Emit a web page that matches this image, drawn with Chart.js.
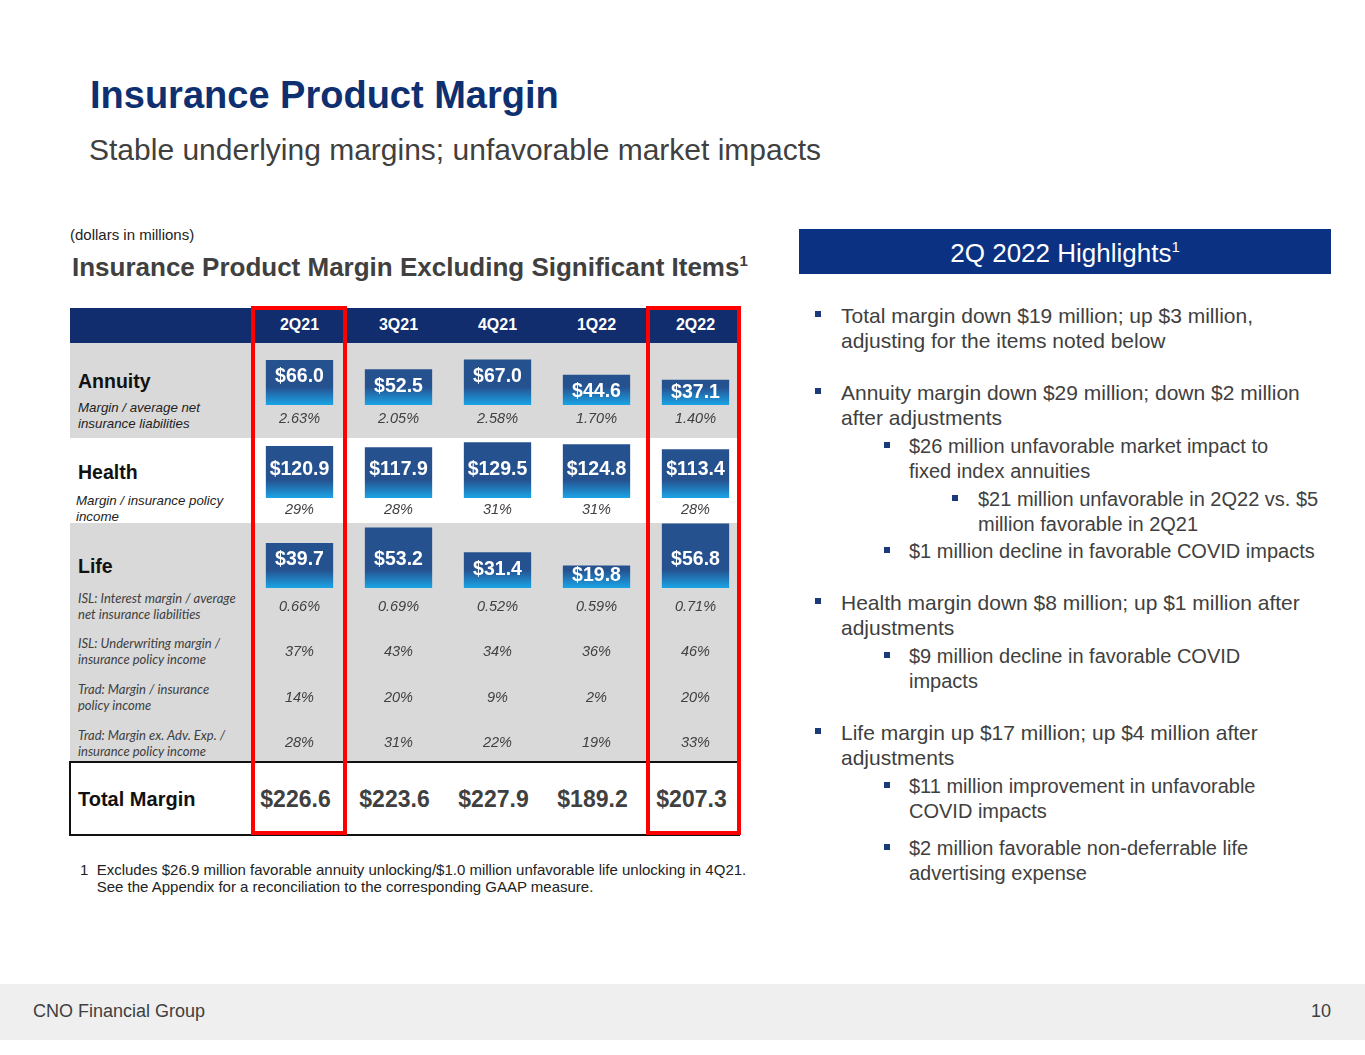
<!DOCTYPE html>
<html>
<head>
<meta charset="utf-8">
<script src="https://cdn.jsdelivr.net/npm/chart.js@4"></script>
<style>
  html, body { margin: 0; padding: 0; background: #fff; }
  body { width: 1365px; height: 1055px; position: relative; overflow: hidden;
         font-family: "Liberation Sans", Arial, sans-serif; color: #404040; }
  .abs { position: absolute; white-space: nowrap; }
  .mid { transform: translateY(-50%); }
  .ctr { transform: translate(-50%, -50%); text-align: center; }
  .box { position: absolute; }
  .sq { position: absolute; width: 6px; height: 6px; background: #1a3a7a; }
  .bt { position: absolute; white-space: nowrap; font-size: 21px; line-height: 25px; color: #404040; }
  .bt2 { font-size: 20px; }
  .cal { font-family: Lato, "Open Sans", sans-serif; font-style: italic; font-size: 13px; line-height: 16px; color: #404040; }
</style>
</head>
<body>

<div class="abs mid" style="left:90px; top:95px; font-size:38px; font-weight:bold; color:#0e2f70;">Insurance Product Margin</div>
<div class="abs mid" style="left:89px; top:150px; font-size:30px; color:#404040;">Stable underlying margins; unfavorable market impacts</div>

<div class="abs mid" style="left:70px; top:234px; font-size:15px; color:#222;">(dollars in millions)</div>
<div class="abs mid" style="left:72px; top:267px; font-size:26px; font-weight:bold; color:#404040;">Insurance Product Margin Excluding Significant Items<sup style="font-size:15px;">1</sup></div>

<!-- table backgrounds -->
<div class="box" style="left:70px; top:308px; width:670px; height:35px; background:#112d6e;"></div>
<div class="box" style="left:70px; top:343px; width:670px; height:95px; background:#d9d9d9;"></div>
<div class="box" style="left:70px; top:438px; width:670px; height:85px; background:#ffffff;"></div>
<div class="box" style="left:70px; top:523px; width:670px; height:239px; background:#d9d9d9;"></div>
<div class="box" style="left:69px; top:761px; width:669px; height:71px; border:2px solid #111; border-right:none;"></div>

<!-- row labels -->
<div class="abs mid" style="left:78px; top:381px; font-size:19.5px; font-weight:bold; color:#111;">Annuity</div>
<div class="abs" style="left:78px; top:400px; font-size:13.3px; line-height:16px; font-style:italic; color:#222;">Margin / average net<br>insurance liabilities</div>
<div class="abs mid" style="left:78px; top:472px; font-size:19.5px; font-weight:bold; color:#111;">Health</div>
<div class="abs" style="left:76px; top:493px; font-size:13.3px; line-height:16px; font-style:italic; color:#222;">Margin / insurance policy<br>income</div>
<div class="abs mid" style="left:78px; top:566px; font-size:19.5px; font-weight:bold; color:#111;">Life</div>
<div class="abs cal" style="left:78px; top:590px;">ISL: Interest margin / average<br>net insurance liabilities</div>
<div class="abs cal" style="left:78px; top:635px;">ISL: Underwriting margin /<br>insurance policy income</div>
<div class="abs cal" style="left:78px; top:681px;">Trad: Margin / insurance<br>policy income</div>
<div class="abs cal" style="left:78px; top:727px;">Trad: Margin ex. Adv. Exp. /<br>insurance policy income</div>
<div class="abs mid" style="left:78px; top:799px; font-size:20px; font-weight:bold; color:#111;">Total Margin</div>

<!-- bar charts, one per segment row (22px extra below the bars for overflowing labels) -->
<div class="box" style="left:250px; top:355px; width:495px; height:72px;"><canvas id="annuityChart"></canvas></div>
<div class="box" style="left:250px; top:441px; width:495px; height:79px;"><canvas id="healthChart"></canvas></div>
<div class="box" style="left:250px; top:521px; width:495px; height:89px;"><canvas id="lifeChart"></canvas></div>

<div id="cells"></div>

<!-- highlight boxes -->
<div class="box" style="left:251px; top:306px; width:88px; height:521px; border:4px solid #ff0000;"></div>
<div class="box" style="left:646px; top:306px; width:87px; height:521px; border:4px solid #ff0000;"></div>

<div class="abs" style="left:80px; top:861px; font-size:15px; line-height:17px; color:#222;">1&nbsp;&nbsp;Excludes $26.9 million favorable annuity unlocking/$1.0 million unfavorable life unlocking in 4Q21.<br>&nbsp;&nbsp;&nbsp;&nbsp;See the Appendix for a reconciliation to the corresponding GAAP measure.</div>

<!-- highlights panel -->
<div class="box" style="left:799px; top:229px; width:532px; height:45px; background:#0b3282;"></div>
<div class="abs ctr" style="left:1065px; top:253px; font-size:26px; color:#fff;">2Q 2022 Highlights<sup style="font-size:15px;">1</sup></div>

<div class="sq" style="left:815px; top:311px;"></div>
<div class="bt" style="left:841px; top:303px;">Total margin down $19 million; up $3 million,<br>adjusting for the items noted below</div>
<div class="sq" style="left:815px; top:388px;"></div>
<div class="bt" style="left:841px; top:380px;">Annuity margin down $29 million; down $2 million<br>after adjustments</div>
<div class="sq" style="left:884px; top:442px;"></div>
<div class="bt bt2" style="left:909px; top:434px;">$26 million unfavorable market impact to<br>fixed index annuities</div>
<div class="sq" style="left:952px; top:495px;"></div>
<div class="bt bt2" style="left:978px; top:487px;">$21 million unfavorable in 2Q22 vs. $5<br>million favorable in 2Q21</div>
<div class="sq" style="left:884px; top:547px;"></div>
<div class="bt bt2" style="left:909px; top:539px;">$1 million decline in favorable COVID impacts</div>
<div class="sq" style="left:815px; top:598px;"></div>
<div class="bt" style="left:841px; top:590px;">Health margin down $8 million; up $1 million after<br>adjustments</div>
<div class="sq" style="left:884px; top:652px;"></div>
<div class="bt bt2" style="left:909px; top:644px;">$9 million decline in favorable COVID<br>impacts</div>
<div class="sq" style="left:815px; top:728px;"></div>
<div class="bt" style="left:841px; top:720px;">Life margin up $17 million; up $4 million after<br>adjustments</div>
<div class="sq" style="left:884px; top:782px;"></div>
<div class="bt bt2" style="left:909px; top:774px;">$11 million improvement in unfavorable<br>COVID impacts</div>
<div class="sq" style="left:884px; top:844px;"></div>
<div class="bt bt2" style="left:909px; top:836px;">$2 million favorable non-deferrable life<br>advertising expense</div>

<!-- footer -->
<div class="box" style="left:0; top:984px; width:1365px; height:56px; background:#efefef;"></div>
<div class="abs mid" style="left:33px; top:1011px; font-size:18px; color:#404040;">CNO Financial Group</div>
<div class="abs mid" style="right:34px; top:1011px; font-size:18px; color:#404040;">10</div>

<script>
const quarters = ['2Q21', '3Q21', '4Q21', '1Q22', '2Q22'];

const annuityMargin = [66.0, 52.5, 67.0, 44.6, 37.1];
const annuityRatio = ['2.63%', '2.05%', '2.58%', '1.70%', '1.40%'];

const healthMargin = [120.9, 117.9, 129.5, 124.8, 113.4];
const healthRatio = ['29%', '28%', '31%', '31%', '28%'];

const lifeMargin = [39.7, 53.2, 31.4, 19.8, 56.8];
const lifeInterest = ['0.66%', '0.69%', '0.52%', '0.59%', '0.71%'];
const lifeUnderwriting = ['37%', '43%', '34%', '36%', '46%'];
const lifeTrad = ['14%', '20%', '9%', '2%', '20%'];
const lifeTradExAdv = ['28%', '31%', '22%', '19%', '33%'];

const totalMargin = [226.6, 223.6, 227.9, 189.2, 207.3];

const NAVY = '#26518f';
const LIGHT = '#1aa4e6';

// column centres line up with the bar charts (left 250, width 495, 5 categories)
const colX = quarters.map((q, i) => 250 + 99 * (i + 0.5));

// text cells of the table
const cells = document.getElementById('cells');
const addCell = (x, y, text, style) => {
    const d = document.createElement('div');
    d.className = 'abs ctr';
    d.style.left = x + 'px';
    d.style.top = y + 'px';
    d.style.cssText += style;
    d.textContent = text;
    cells.appendChild(d);
};
const pctStyle = 'font-size:14.5px; font-style:italic; color:#404040;';
quarters.forEach((q, i) => {
    addCell(colX[i], 325, q, 'font-size:16px; font-weight:bold; color:#fff;');
    addCell(colX[i], 418, annuityRatio[i], pctStyle);
    addCell(colX[i], 509, healthRatio[i], pctStyle);
    addCell(colX[i], 606, lifeInterest[i], pctStyle);
    addCell(colX[i], 651, lifeUnderwriting[i], pctStyle);
    addCell(colX[i], 697, lifeTrad[i], pctStyle);
    addCell(colX[i], 742, lifeTradExAdv[i], pctStyle);
    addCell(colX[i] - 4, 799, '$' + totalMargin[i].toFixed(1), 'font-size:23px; font-weight:bold; color:#404040;');
});

// value labels inside the bars
const barLabels = {
    id: 'barLabels',
    afterDatasetsDraw: (chart) => {
        const ctx = chart.ctx;
        const meta = chart.getDatasetMeta(0);
        const values = chart.data.datasets[0].data;
        ctx.save();
        ctx.fillStyle = '#ffffff';
        ctx.font = 'bold 19.5px "Liberation Sans", Arial, sans-serif';
        ctx.textAlign = 'center';
        ctx.textBaseline = 'middle';
        meta.data.forEach((bar, i) => {
            const h = bar.base - bar.y;
            const offset = Math.min(Math.max(17, h - 28), h - 12);
            ctx.fillText('$' + values[i].toFixed(1), bar.x, bar.y + offset);
        });
        ctx.restore();
    }
};

const makeRowChart = (id, values, max) => {
    const config = {
        type: 'bar',
        data: {
            labels: quarters,
            datasets: [
                {
                    data: values,
                    backgroundColor: (context) => {
                        const area = context.chart.chartArea;
                        if (!area) {
                            return NAVY;
                        }
                        const g = context.chart.ctx.createLinearGradient(0, area.top, 0, area.bottom);
                        const stop = Math.max(0, 1 - 18 / (area.bottom - area.top));
                        g.addColorStop(0, NAVY);
                        g.addColorStop(stop, NAVY);
                        g.addColorStop(1, LIGHT);
                        return g;
                    },
                    borderWidth: 0,
                    barPercentage: 0.68,
                    categoryPercentage: 1
                }
            ]
        },
        options: {
            responsive: true,
            maintainAspectRatio: false,
            animation: false,
            layout: { padding: { top: 0, left: 0, right: 0, bottom: 22 } },
            scales: {
                x: { display: false },
                y: { display: false, min: 0, max: max }
            },
            plugins: {
                legend: { display: false },
                tooltip: { enabled: false },
                title: { display: false }
            }
        },
        plugins: [barLabels]
    };
    return new Chart(document.getElementById(id), config);
};

makeRowChart('annuityChart', annuityMargin, 73.5);
makeRowChart('healthChart', healthMargin, 132.5);
makeRowChart('lifeChart', lifeMargin, 59);
</script>
</body>
</html>
